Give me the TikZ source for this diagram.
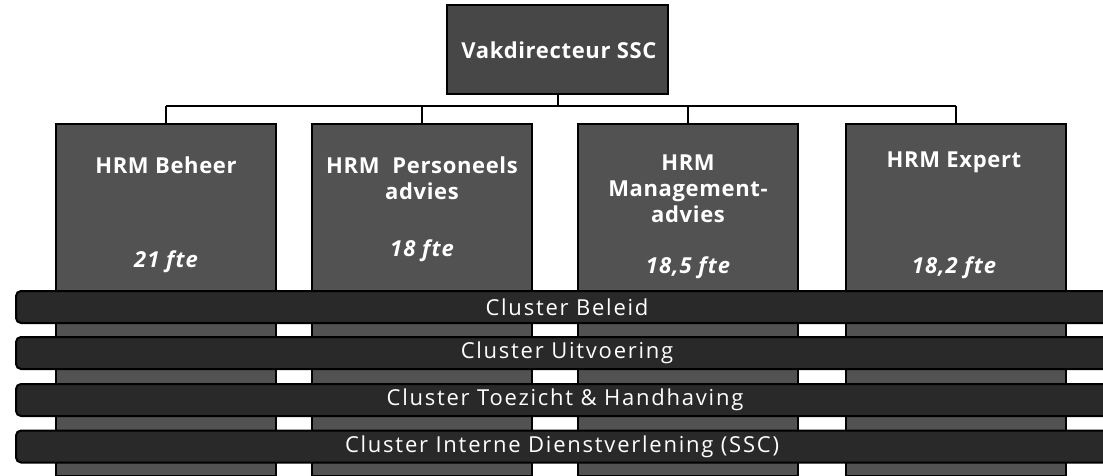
\documentclass[tikz,border=0pt]{standalone}
\usepackage{fontspec}
\setmainfont{Open Sans}
\usetikzlibrary{positioning}

\tikzset{
  topbox/.style={draw=black, fill=black!72, minimum width=221pt, minimum height=89pt, inner sep=0pt},
  unitbox/.style={draw=black, fill=black!68, minimum width=220pt, minimum height=352pt, inner sep=0pt},
  clusterbar/.style={draw=black, fill=black!84, rounded corners=5pt, minimum width=1110pt, minimum height=32pt, inner sep=0pt},
  unittext/.style={text=white, font=\bfseries\fontsize{22}{26}\selectfont\addfontfeature{LetterSpace=3}, align=center, inner sep=0pt},
  ftetext/.style={text=white, font=\bfseries\itshape\fontsize{22}{26}\selectfont\addfontfeature{LetterSpace=5}, inner sep=0pt},
  clustertext/.style={text=white, font=\fontsize{22}{26}\selectfont\addfontfeature{LetterSpace=8}, inner sep=0pt},
}

\begin{document}
\begin{tikzpicture}[x=1pt, y=-1pt, line width=2pt]
\useasboundingbox (0,0) rectangle (1103,476);

% director
\node[topbox] (vakdir) at (557.5,49.5) {};
\node[unittext] (vakdirtxt) at (559,50) {Vakdirecteur SSC};

% units
\node[unitbox] (beheer) at (166,300) {};
\node[unitbox] (persadv) at (422,300) {};
\node[unitbox] (mgmtadv) at (688,300) {};
\node[unitbox] (expert) at (956,300) {};

% lines
\coordinate (bus) at (557.5,106);
\draw (vakdir.south) -- (bus);
\draw (beheer.north |- bus) -- (expert.north |- bus);
\draw (beheer.north |- bus) -- (beheer.north);
\draw (persadv.north |- bus) -- (persadv.north);
\draw (mgmtadv.north |- bus) -- (mgmtadv.north);
\draw (expert.north |- bus) -- (expert.north);

% unit texts
\node[unittext] (beheertxt) at (166,165) {HRM Beheer};
\node[ftetext] (beheerfte) at (166,262) {21 fte};
\node[unittext] (persadvtxt) at (422,178) {HRM\ \ Personeels\\advies};
\node[ftetext] (persadvfte) at (422,251) {18 fte};
\node[unittext] (mgmtadvtxt) at (688,188.5) {HRM\\Management-\\advies};
\node[ftetext] (mgmtadvfte) at (688,268) {18,5 fte};
\node[unittext] (experttxt) at (954,162) {HRM Expert};
\node[ftetext] (expertfte) at (954,268) {18,2 fte};

% clusters
\node[clusterbar] (beleid) at (571,307) {};
\node[clustertext] (beleidtxt) at (567,307) {Cluster Beleid};
\node[clusterbar] (uitvoering) at (571,353) {};
\node[clustertext] (uitvoeringtxt) at (567,353) {Cluster Uitvoering};
\node[clusterbar] (toezicht) at (571,400) {};
\node[clustertext] (toezichttxt) at (565,400) {Cluster Toezicht \& Handhaving};
\node[clusterbar] (interne) at (571,446.5) {};
\node[clustertext] (internetxt) at (562,446.5) {Cluster Interne Dienstverlening (SSC)};
\end{tikzpicture}
\end{document}
